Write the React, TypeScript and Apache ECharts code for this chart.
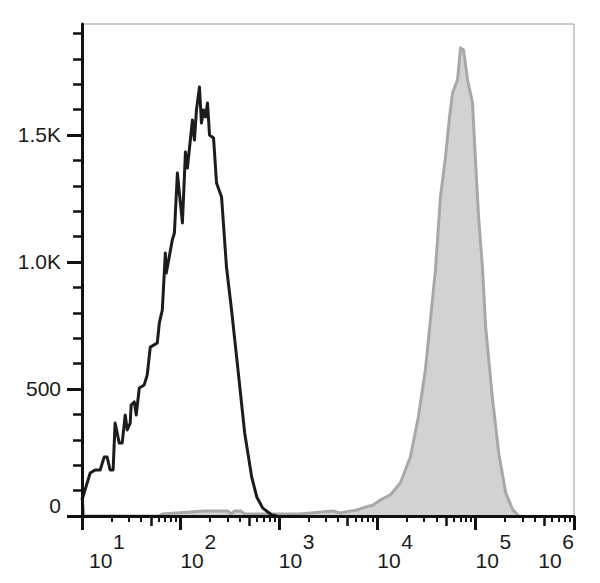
import React, { useEffect, useRef } from "react";
import * as echarts from "echarts";

// Unstained / control histogram (black outline)
const blackX = [10, 12.1, 13.6, 15.3, 16.8, 18.0, 19.3, 20.7, 21.7, 23.9, 25.6, 27.5, 28.8, 30.9, 31.6, 34.0, 35.6, 38.2, 42.9, 46.0, 49.4, 58.2, 61.1, 65.5, 70.3, 71.9, 82.8, 86.9, 93.2, 100, 104.8, 109.8, 112.5, 117.8, 132.5, 138.9, 145.6, 156.2, 163.7, 171.7, 179.9, 188.6, 197.7, 217.2, 232.9, 262, 294, 331, 382, 450, 530, 597, 687, 849, 955];
const blackY = [63, 169, 181, 181, 232, 232, 181, 181, 366, 287, 287, 398, 339, 366, 437, 449, 398, 504, 516, 555, 665, 681, 760, 811, 1035, 957, 1087, 1114, 1350, 1232, 1154, 1335, 1433, 1370, 1559, 1480, 1598, 1689, 1547, 1598, 1571, 1626, 1500, 1488, 1311, 1256, 980, 811, 587, 327, 154, 75, 31, 4, 0];

// Stained histogram (filled gray)
const grayX = [10, 10.5, 61, 65.5, 176, 302, 331, 356, 409, 450, 1637, 3556, 4188, 6252, 7550, 9100, 10740, 13580, 17170, 21720, 26190, 30900, 34750, 39080, 43950, 49420, 54330, 58240, 65500, 70290, 75460, 82830, 93110, 100000, 107300, 117800, 126500, 148900, 171700, 202400, 238900, 274900];
const grayY = [75, 0, 0, 8, 20, 20, 8, 20, 20, 8, 8, 20, 12, 24, 35, 43, 63, 83, 130, 232, 390, 575, 772, 969, 1256, 1413, 1571, 1665, 1717, 1843, 1835, 1717, 1626, 1390, 1177, 969, 744, 457, 248, 91, 24, 0];

// Axes
const xMajorTicks = [10, 100, 1000, 10000, 100000, 1000000];
const xMidTicks = [50, 500, 5000, 50000, 500000];
const xMinorTicks = [
  20, 30, 40, 60, 70, 80, 90,
  200, 300, 400, 600, 700, 800, 900,
  2000, 3000, 4000, 6000, 7000, 8000, 9000,
  20000, 30000, 40000, 60000, 70000, 80000, 90000,
  200000, 300000, 400000, 600000, 700000, 800000, 900000,
];
const xLabelValues = [10, 100, 1000, 10000, 100000];
const xLastLabel = [1000000];
const yMajorTicks = [0, 500, 1000, 1500];
const yTickLabels = ["0", "500", "1.0K", "1.5K"];
const yMinorTicks = [100, 200, 300, 400, 600, 700, 800, 900, 1100, 1200, 1300, 1400, 1600, 1700, 1800, 1900];
const yMax = 1937;

const FONT = "'Liberation Sans', Arial, sans-serif";
const TXT = "#1a1a1a";

export default function App() {
  const ref = useRef<HTMLDivElement>(null);
  useEffect(() => {
    if (!ref.current) return;
    const chart = echarts.init(ref.current, null, { renderer: "svg" });
    const richBase = { fontSize: 21, lineHeight: 19, align: "left", color: TXT, fontFamily: FONT };
    const rich = {
      b: { ...richBase },
      e: { ...richBase, padding: [0, 0, 0, 24] },
      b1: { ...richBase, padding: [0, 0, 0, 7] },
      e1: { ...richBase, padding: [0, 0, 0, 31] },
    };
    const expOf = (v: number) => Math.round(Math.log10(v));
    const commonX = {
      type: "log",
      logBase: 10,
      min: 10,
      max: 1000000,
      gridIndex: 0,
      position: "bottom",
      splitLine: { show: false },
      minorTick: { show: false },
      minorSplitLine: { show: false },
    };
    const commonY = {
      type: "value",
      min: 0,
      max: yMax,
      gridIndex: 0,
      position: "left",
      splitLine: { show: false },
    };
    chart.setOption({
      animation: false,
      grid: {
        left: 82,
        right: 26,
        top: 24,
        bottom: 67,
        show: true,
        borderColor: "#9a9a9a",
        borderWidth: 1,
        backgroundColor: "transparent",
      },
      xAxis: [
        {
          ...commonX,
          axisLine: { show: true, lineStyle: { color: "#111", width: 3 } },
          axisTick: { show: true, customValues: xMajorTicks, length: 14, lineStyle: { color: "#111", width: 3 } },
          axisLabel: {
            show: true,
            customValues: xLabelValues,
            align: "left",
            verticalAlign: "top",
            margin: 16,
            rich,
            formatter: (v: number) => {
              const e = expOf(v);
              return e === 1 ? `{e1|${e}}\n{b1|10}` : `{e|${e}}\n{b|10}`;
            },
          },
          z: 5,
        },
        {
          ...commonX,
          axisLine: { show: false },
          axisTick: { show: true, customValues: xMidTicks, length: 10, lineStyle: { color: "#111", width: 2.5 } },
          axisLabel: {
            show: true,
            customValues: xLastLabel,
            align: "right",
            verticalAlign: "top",
            margin: 16,
            rich,
            formatter: (v: number) => `{e|${expOf(v)}}\n{b|10}`,
          },
          z: 5,
        },
        {
          ...commonX,
          axisLine: { show: false },
          axisTick: { show: true, customValues: xMinorTicks, length: 6, lineStyle: { color: "#111", width: 2 } },
          axisLabel: { show: false },
          z: 5,
        },
      ],
      yAxis: [
        {
          ...commonY,
          axisLine: { show: true, lineStyle: { color: "#111", width: 3 } },
          axisTick: { show: true, customValues: yMajorTicks, length: 15, lineStyle: { color: "#111", width: 3 } },
          axisLabel: {
            show: true,
            customValues: yMajorTicks,
            margin: 21,
            fontSize: 21,
            color: TXT,
            fontFamily: FONT,
            rich: { z: { fontSize: 21, color: TXT, fontFamily: FONT, padding: [0, 0, 22, 0] } },
            formatter: (v: number) => {
              const i = yMajorTicks.indexOf(v);
              const t = i >= 0 ? yTickLabels[i] : "";
              return v === 0 ? `{z|${t}}` : t;
            },
          },
          z: 5,
        },
        {
          ...commonY,
          axisLine: { show: false },
          axisTick: { show: true, customValues: yMinorTicks, length: 9, lineStyle: { color: "#111", width: 2.5 } },
          axisLabel: { show: false },
          z: 5,
        },
      ],
      series: [
        {
          type: "line",
          xAxisIndex: 0,
          yAxisIndex: 0,
          data: grayX.map((x, i) => [x, grayY[i]]),
          showSymbol: false,
          symbol: "none",
          lineStyle: { color: "#a8a8a8", width: 3, join: "round" },
          areaStyle: { color: "#d2d2d2", opacity: 1 },
          z: 2,
        },
        {
          type: "line",
          xAxisIndex: 0,
          yAxisIndex: 0,
          data: blackX.map((x, i) => [x, blackY[i]]),
          showSymbol: false,
          symbol: "none",
          lineStyle: { color: "#1c1c1c", width: 3, join: "round" },
          z: 3,
        },
      ],
    });
    return () => chart.dispose();
  }, []);
  return (
    <div
      ref={ref}
      style={{ position: "absolute", left: 0, top: 0, width: 600, height: 583, background: "#fff" }}
    />
  );
}
